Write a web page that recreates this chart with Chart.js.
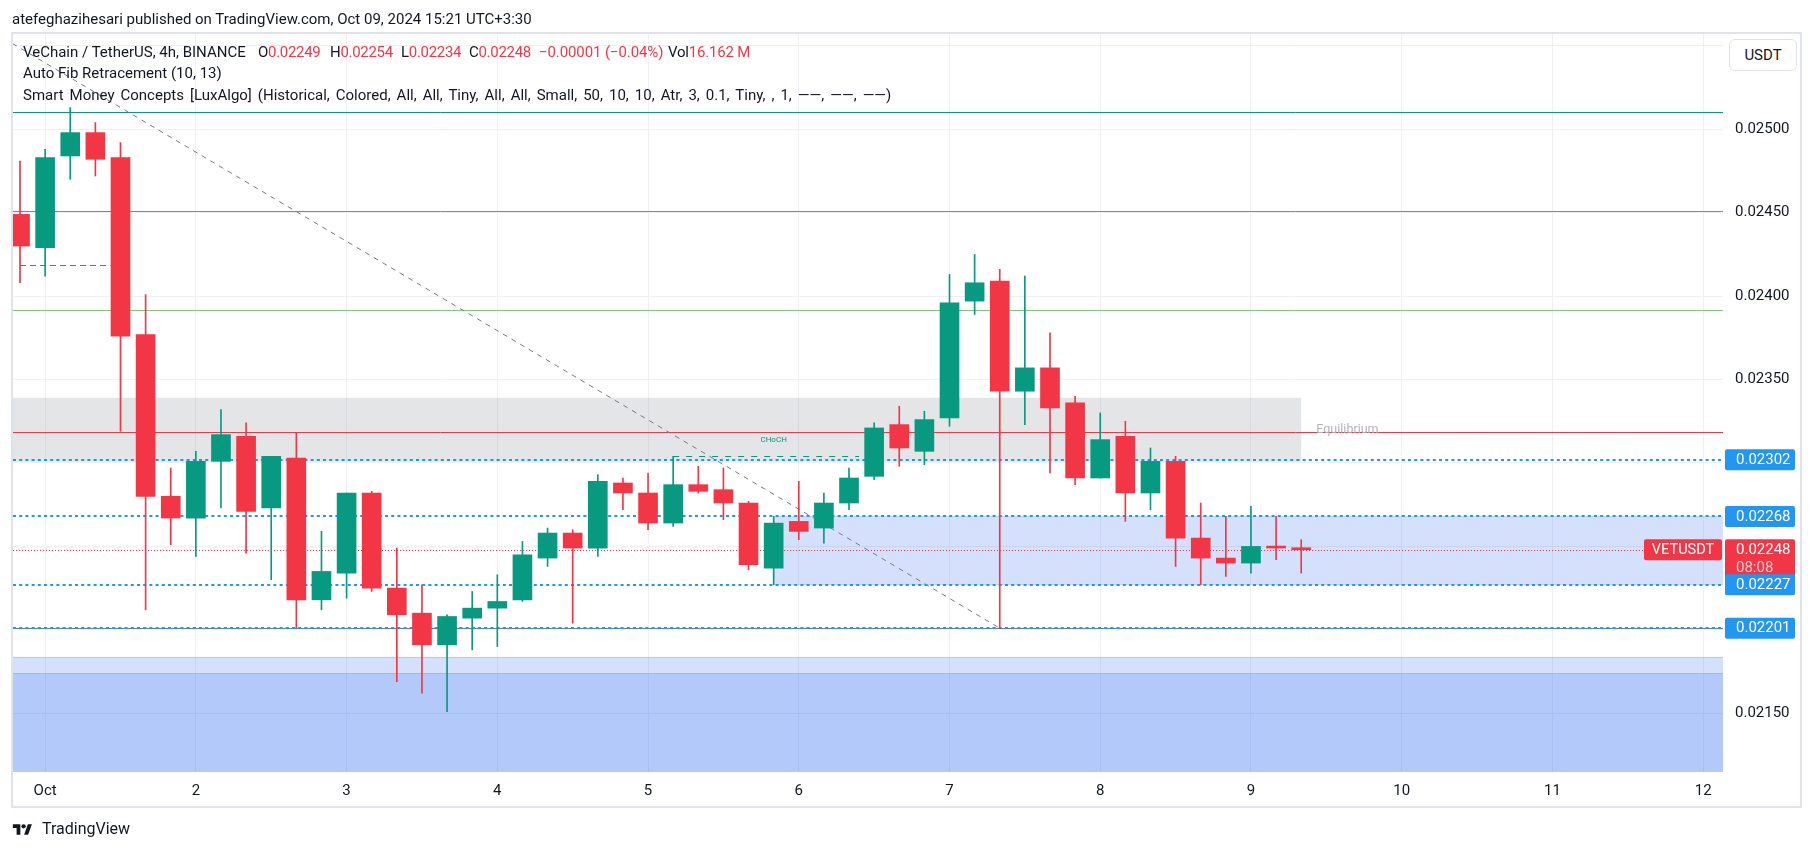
<!DOCTYPE html>
<html>
<head>
<meta charset="utf-8">
<title>VETUSDT 4h</title>
<script src="https://cdn.jsdelivr.net/npm/chart.js@4.4.1/dist/chart.umd.min.js"></script>
<style>
  html, body { margin:0; padding:0; background:#ffffff; }
  body { width:1814px; height:851px; position:relative; overflow:hidden; font-family: Roboto, "Liberation Sans", sans-serif; color:#131722; }
  #chart { position:absolute; left:0; top:0; }
  .t { position:absolute; white-space:pre; line-height:22px; height:22px; }
  .leg { font-size:15px; }
  .r { color:#f23645; }
  #frame { position:absolute; left:11px; top:32px; width:1791px; height:776px; border:2px solid #e0e3eb; box-sizing:border-box; }
  #usdt { position:absolute; left:1729px; top:39px; width:68px; height:32px; box-sizing:border-box; border:1px solid #e0e3eb; border-radius:6px; font-size:15px; line-height:30px; text-align:center; background:#fff; }
</style>
</head>
<body>
<canvas id="chart" width="1814" height="851"></canvas>
<div id="frame"></div>
<div class="t" style="left:12px;top:8px;font-size:15px;">atefeghazihesari published on TradingView.com, Oct 09, 2024 15:21 UTC+3:30</div>
<div class="t leg" style="left:23px;top:41px;">VeChain / TetherUS, 4h, BINANCE</div>
<div class="t leg" style="left:258px;top:41px;letter-spacing:-0.3px;">O<span class="r" id="lgO"></span></div>
<div class="t leg" style="left:330px;top:41px;letter-spacing:-0.3px;">H<span class="r" id="lgH"></span></div>
<div class="t leg" style="left:401px;top:41px;letter-spacing:-0.3px;">L<span class="r" id="lgL"></span></div>
<div class="t leg" style="left:469px;top:41px;letter-spacing:-0.3px;">C<span class="r" id="lgC"></span></div>
<div class="t leg r" style="left:539px;top:41px;letter-spacing:-0.1px;" id="lgChg"></div>
<div class="t leg" style="left:668px;top:41px;letter-spacing:-0.2px;">Vol<span class="r" id="lgVol"></span></div>
<div class="t leg" style="left:23px;top:62px;">Auto Fib Retracement (10, 13)</div>
<div class="t leg" style="left:23px;top:84px;word-spacing:2.3px;">Smart Money Concepts [LuxAlgo] (Historical, Colored, All, All, Tiny, All, All, Small, 50, 10, 10, Atr, 3, 0.1, Tiny, , 1, ——, ——, ——)</div>
<div id="usdt">USDT</div>
<svg style="position:absolute;left:11px;top:822px" width="23" height="15" viewBox="0 0 36 28"><path d="M14 24H7V11H0V4h14v20z" fill="#131722"/><circle cx="20" cy="8" r="4" fill="#131722"/><path d="M28.5 24h-7.5L28 4h7.5L28.5 24z" fill="#131722"/></svg>
<div class="t" style="left:42px;top:818px;font-size:16px;">TradingView</div>

<script>
// ---- data (4h candles, VET/USDT, Sep 30 20:00 -> Oct 9 08:00) ----
const opens  = [0.02449,0.02429,0.02484,0.02498,0.02483,0.02377,0.02280,0.02267,0.02301,0.02316,
                0.02273,0.02303,0.02218,0.02234,0.02282,0.02225,0.02210,0.02191,0.02207,0.02213,
                0.02218,0.02243,0.02258,0.02249,0.02288,0.02282,0.02264,0.02287,0.02284,0.02276,
                0.02237,0.02265,0.02261,0.02276,0.02292,0.02323,0.02307,0.02327,0.02397,0.02409,
                0.02343,0.02357,0.02336,0.02291,0.02316,0.02282,0.02301,0.02255,0.02243,0.02240,
                0.02250,0.02249];
const highs  = [0.02481,0.02488,0.02513,0.02504,0.02492,0.02401,0.02297,0.02307,0.02332,0.02324,
                0.02304,0.02318,0.02259,0.02282,0.02283,0.02249,0.02227,0.02209,0.02223,0.02233,
                0.02253,0.02261,0.02260,0.02293,0.02291,0.02294,0.02304,0.02298,0.02297,0.02277,
                0.02268,0.02289,0.02282,0.02297,0.02324,0.02334,0.02331,0.02413,0.02425,0.02416,
                0.02412,0.02378,0.02340,0.02330,0.02325,0.02309,0.02304,0.02276,0.02268,0.02274,
                0.02268,0.02254];
const lows   = [0.02408,0.02412,0.02470,0.02472,0.02319,0.02212,0.02251,0.02244,0.02273,0.02246,
                0.02230,0.02201,0.02212,0.02219,0.02223,0.02169,0.02162,0.02151,0.02188,0.02190,
                0.02217,0.02238,0.02204,0.02244,0.02272,0.02260,0.02262,0.02282,0.02266,0.02236,
                0.02227,0.02254,0.02252,0.02272,0.02290,0.02298,0.02299,0.02322,0.02389,0.02201,
                0.02323,0.02294,0.02287,0.02291,0.02265,0.02272,0.02238,0.02227,0.02232,0.02234,
                0.02242,0.02234];
const closes = [0.02430,0.02483,0.02498,0.02482,0.02376,0.02280,0.02267,0.02301,0.02317,0.02271,
                0.02304,0.02218,0.02235,0.02282,0.02225,0.02209,0.02191,0.02208,0.02213,0.02217,
                0.02245,0.02258,0.02249,0.02289,0.02282,0.02264,0.02287,0.02283,0.02276,0.02239,
                0.02264,0.02259,0.02276,0.02291,0.02321,0.02309,0.02326,0.02396,0.02408,0.02343,
                0.02357,0.02333,0.02291,0.02314,0.02282,0.02301,0.02255,0.02243,0.02240,0.02250,
                0.02249,0.02248];
const volumeText = '16.162 M';
const dayLabels = ['Oct','2','3','4','5','6','7','8','9','10','11','12'];
const yTickValues = [0.0215,0.0220,0.0225,0.0230,0.0235,0.0240,0.0245,0.0250,0.0255];
const yTickLabels = ['0.02150','','','','0.02350','0.02400','0.02450','0.02500',''];
const fibPrices = [0.025104, 0.024509, 0.023917, 0.023186, 0.02201];
const priceLines = [0.02302, 0.02268, 0.02227, 0.02201];
const lastPrice = 0.02248;
const countdown = '08:08';
const symbolName = 'VETUSDT';
const equilibriumZone = [0.023008, 0.023391];
const equilibriumEndIndex = 51;
const orderBlockZone = [0.02227, 0.02268];
const orderBlockStartIndex = 30;
const demandZones = [[0.0210, 0.021838], [0.0210, 0.021740]];
const trendLine = [[-0.3, 0.025514], [39, 0.02201]];
const eqlLine = [[0, 0.024187], [3.6, 0.024187]];
const chochLine = [[26, 0.02304], [33.4, 0.02304]];
const chochLabel = [30, 0.02314];
const equilibriumLabel = [51.6, 0.02320];

// ---- styles (kept apart from the data) ----
const UP = '#089981', DOWN = '#f23645', BLUE = '#2196f3';
const fibColors = ['#089981', '#4caf50', '#81c784', '#f23645', '#787b86'];
const candlesPerDay = 6;
const xMin = -0.279, xMax = 67.79, yMin = 0.021148, yMax = 0.025571;

// legend values from the last candle
(function () {
  const last = closes.length - 1;
  const chg = closes[last] - closes[last - 1];
  const pct = chg / closes[last - 1] * 100;
  const m = s => s.replace('-', '\u2212');
  document.getElementById('lgO').textContent = opens[last].toFixed(5);
  document.getElementById('lgH').textContent = highs[last].toFixed(5);
  document.getElementById('lgL').textContent = lows[last].toFixed(5);
  document.getElementById('lgC').textContent = closes[last].toFixed(5);
  document.getElementById('lgChg').textContent = m(chg.toFixed(5)) + ' (' + m(pct.toFixed(2)) + '%)';
  document.getElementById('lgVol').textContent = volumeText;
})();

const colors = closes.map((c, i) => c >= opens[i] ? UP : DOWN);
const wickData = closes.map((c, i) => ({ x: i, y: [lows[i], highs[i]] }));
const bodyData = closes.map((c, i) => ({ x: i, y: [opens[i], c] }));
const dayTicks = dayLabels.map((l, k) => 1 + k * candlesPerDay);

function rr(ctx, x, y, w, h, r) {
  ctx.beginPath();
  ctx.moveTo(x + r, y); ctx.lineTo(x + w - r, y); ctx.quadraticCurveTo(x + w, y, x + w, y + r);
  ctx.lineTo(x + w, y + h - r); ctx.quadraticCurveTo(x + w, y + h, x + w - r, y + h);
  ctx.lineTo(x + r, y + h); ctx.quadraticCurveTo(x, y + h, x, y + h - r);
  ctx.lineTo(x, y + r); ctx.quadraticCurveTo(x, y, x + r, y); ctx.closePath();
}

const overlay = {
  id: 'overlay',
  beforeDraw(chart) {
    const ctx = chart.ctx; ctx.save(); ctx.fillStyle = '#fff'; ctx.fillRect(0, 0, chart.width, chart.height); ctx.restore();
  },
  beforeDatasetsDraw(chart) {
    const { ctx, chartArea: a, scales: { x, y } } = chart;
    const X = v => x.getPixelForValue(v), Y = v => y.getPixelForValue(v);
    ctx.save();
    ctx.beginPath(); ctx.rect(a.left, a.top, a.right - a.left, a.bottom - a.top); ctx.clip();
    const hline = (x0, x1, py, color) => {
      ctx.strokeStyle = color; ctx.lineWidth = 1; ctx.setLineDash([]);
      ctx.beginPath(); ctx.moveTo(x0, Math.round(py) + 0.5); ctx.lineTo(x1, Math.round(py) + 0.5); ctx.stroke();
    };
    const box = (x0, x1, p0, p1, fill, edge) => {
      const top = Y(Math.max(p0, p1)), bot = Y(Math.min(p0, p1));
      ctx.fillStyle = fill; ctx.fillRect(x0, top, x1 - x0, bot - top);
      if (edge) { hline(x0, x1, top, edge); hline(x0, x1, bot - 1, edge); }
    };
    // demand zones (bottom)
    demandZones.forEach(z => box(a.left, a.right, z[0], z[1], 'rgba(44,104,242,0.2)', 'rgba(44,104,242,0.2)'));
    // equilibrium zone
    box(a.left, X(equilibriumEndIndex), equilibriumZone[0], equilibriumZone[1], 'rgba(120,123,134,0.2)', null);
    // order block
    box(X(orderBlockStartIndex), a.right, orderBlockZone[0], orderBlockZone[1], 'rgba(44,104,242,0.2)', 'rgba(44,104,242,0.15)');
    // fib levels
    fibPrices.forEach((p, i) => hline(a.left, a.right, Y(p), fibColors[i]));
    // trend line
    ctx.strokeStyle = '#787b86'; ctx.lineWidth = 1; ctx.setLineDash([5, 5]);
    ctx.beginPath(); ctx.moveTo(X(trendLine[0][0]), Y(trendLine[0][1])); ctx.lineTo(X(trendLine[1][0]), Y(trendLine[1][1])); ctx.stroke();
    // EQL red dashed
    ctx.strokeStyle = DOWN; ctx.setLineDash([6, 4]);
    let py = Math.round(Y(eqlLine[0][1])) + 0.5;
    ctx.beginPath(); ctx.moveTo(X(eqlLine[0][0]), py); ctx.lineTo(X(eqlLine[1][0]), py); ctx.stroke();
    // CHoCH teal dashed
    ctx.strokeStyle = UP; ctx.setLineDash([6, 7]);
    py = Math.round(Y(chochLine[0][1])) + 0.5;
    ctx.beginPath(); ctx.moveTo(X(chochLine[0][0]), py); ctx.lineTo(X(chochLine[1][0]), py); ctx.stroke();
    // blue dotted price lines
    ctx.strokeStyle = BLUE; ctx.lineWidth = 2; ctx.setLineDash([3, 3.2]);
    priceLines.forEach(p => {
      const yy = Math.round(Y(p));
      ctx.beginPath(); ctx.moveTo(a.left, yy); ctx.lineTo(a.right, yy); ctx.stroke();
    });
    // last price dotted red
    ctx.strokeStyle = DOWN; ctx.lineWidth = 1; ctx.setLineDash([1, 2]);
    py = Math.round(Y(lastPrice)) + 0.5;
    ctx.beginPath(); ctx.moveTo(a.left, py); ctx.lineTo(a.right, py); ctx.stroke();
    ctx.restore();
  },
  afterDraw(chart) {
    const { ctx, chartArea: a, scales: { x, y } } = chart;
    const X = v => x.getPixelForValue(v), Y = v => y.getPixelForValue(v);
    ctx.save();
    ctx.textBaseline = 'middle';
    // text labels in plot
    ctx.font = '8px Roboto'; ctx.fillStyle = UP; ctx.textAlign = 'center';
    ctx.fillText('CHoCH', X(chochLabel[0]), Y(chochLabel[1]));
    ctx.font = '12.5px Roboto'; ctx.fillStyle = '#b2b5be'; ctx.textAlign = 'left';
    ctx.fillText('Equilibrium', X(equilibriumLabel[0]), Y(equilibriumLabel[1]));
    // axis price labels
    const lx = y.left + 2, lw = 70, lh = 21;
    ctx.font = '15px Roboto';
    const plabel = (p, bg) => {
      const yy = Y(p);
      ctx.fillStyle = bg; rr(ctx, lx, yy - lh / 2, lw, lh, 2); ctx.fill();
      ctx.fillStyle = '#fff'; ctx.textAlign = 'left';
      ctx.fillText(p.toFixed(5), lx + 11, yy + 0.5);
    };
    // last price label (red, two lines)
    const ly = Y(lastPrice);
    ctx.fillStyle = DOWN; rr(ctx, lx, ly - 10.5, lw, 38.5, 2); ctx.fill();
    ctx.fillStyle = '#fff'; ctx.textAlign = 'left';
    ctx.fillText(lastPrice.toFixed(5), lx + 11, ly + 0.5);
    ctx.fillStyle = 'rgba(255,255,255,0.72)';
    ctx.fillText(countdown, lx + 11, ly + 19);
    priceLines.forEach(p => plabel(p, BLUE));
    // symbol label
    ctx.fillStyle = DOWN; rr(ctx, a.right - 79, ly - 10.5, 78, 21, 2); ctx.fill();
    ctx.font = '14.5px Roboto'; ctx.fillStyle = '#fff'; ctx.textAlign = 'center';
    ctx.fillText(symbolName, a.right - 40, ly + 0.5);
    ctx.restore();
  }
};

new Chart(document.getElementById('chart'), {
  type: 'bar',
  data: {
    datasets: [
      { label: 'wick', data: wickData, backgroundColor: colors, barThickness: 1, grouped: false, order: 2, borderWidth: 0 },
      { label: 'body', data: bodyData, backgroundColor: colors, barThickness: 19, grouped: false, order: 1, borderWidth: 0, minBarLength: 2 }
    ]
  },
  options: {
    responsive: false, maintainAspectRatio: false, animation: false, devicePixelRatio: 1,
    layout: { padding: { left: 13, top: 34, right: 14, bottom: 45 } },
    plugins: { legend: { display: false }, tooltip: { enabled: false } },
    scales: {
      x: {
        type: 'linear', min: xMin, max: xMax, offset: false,
        grid: { color: '#eef0f4', drawTicks: false, offset: false },
        border: { display: false },
        afterBuildTicks: s => { s.ticks = dayTicks.map(v => ({ value: v })); },
        afterFit: s => { s.height = 34; },
        ticks: { autoSkip: false, maxRotation: 0, padding: 10, color: '#131722', font: { family: 'Roboto', size: 15 },
                 callback: (v, i) => dayLabels[i] }
      },
      y: {
        type: 'linear', position: 'right', min: yMin, max: yMax, beginAtZero: false,
        grid: { color: '#eef0f4', drawTicks: false },
        border: { display: false },
        afterBuildTicks: s => { s.ticks = yTickValues.map(v => ({ value: v })); },
        afterFit: s => { s.width = 77; },
        ticks: { padding: 12, crossAlign: 'near', color: '#131722', font: { family: 'Roboto', size: 15 },
                 callback: (v, i) => yTickLabels[i] }
      }
    }
  },
  plugins: [overlay]
});
</script>
</body>
</html>
